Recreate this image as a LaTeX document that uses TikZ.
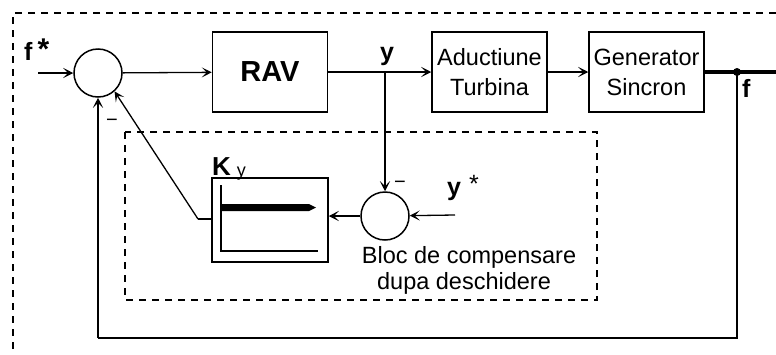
\documentclass[tikz,border=0pt]{standalone}
\usepackage{fontspec}
\setmainfont{Liberation Sans}
\usetikzlibrary{arrows.meta}
\begin{document}
\begin{tikzpicture}[x=1pt,y=-1pt,
  arr/.style={line width=1.3pt,-{Stealth[length=10pt,width=10pt,inset=5pt]}},
  sig/.style={line width=1.3pt},
  blk/.style={draw,line width=1.5pt,minimum width=115pt,minimum height=80pt,inner sep=0pt,align=center,font=\fontsize{23.5}{30}\selectfont},
  sumc/.style={draw,circle,line width=1.5pt,minimum size=48pt,inner sep=0pt},
  dsh/.style={line width=1.5pt,dash pattern=on 7pt off 6pt},
  lbl/.style={inner sep=0pt,anchor=base west,font=\fontsize{25}{28}\selectfont\bfseries},
  txt/.style={inner sep=0pt,font=\fontsize{23.5}{27}\selectfont},
  mns/.style={inner sep=0pt,font=\fontsize{20}{24}\selectfont}]
\useasboundingbox (0,0) rectangle (776,354);
% outer dashed frame (top and left)
\coordinate (ot) at (776,13);
\coordinate (oc) at (13,13);
\coordinate (ob) at (13,354);
\draw[dsh] (ot) -- (oc) -- (ob);
% inner dashed frame
\coordinate (i1) at (125,132);
\coordinate (i2) at (597,300);
\draw[dsh] (i1) rectangle (i2);
% blocks
\node[sumc] (c1) at (98,73) {};
\node[blk,font=\fontsize{29}{30}\selectfont\bfseries] (rav) at (270,72) {RAV};
\node[blk] (adu) at (489.5,72) {Aductiune\\Turbina};
\node[blk] (gen) at (646.5,72) {Generator\\Sincron};
\node[sumc] (c2) at (385,216) {};
\node[draw,line width=1.5pt,minimum width=116pt,minimum height=84pt,inner sep=0pt] (ky) at (270,220) {};
% Ky inner chart
\draw[line width=1.3pt] (221,185) -- (221,251) -- (318,251);
\fill (221,204) -- (309,204) -- (316,207.5) -- (309,211) -- (221,211) -- cycle;
% labels
\node[lbl] (fs) at (24,60) {f\hspace{5pt}\raisebox{1pt}{\fontsize{30}{30}\selectfont *}};
\node[lbl] (yl) at (380,60) {y};
\node[lbl] (ys) at (447,195) {y\hspace{8pt}\raisebox{3pt}{\mdseries *}};
\node[lbl] (fl) at (742,97) {f};
\node[lbl,font=\fontsize{26}{28}\selectfont\bfseries] (kyl) at (212,175) {K\hspace{6pt}\raisebox{-1pt}{\fontsize{18}{20}\selectfont\mdseries y}};
\node[txt] (bl1) at (469,257) {Bloc de compensare};
\node[txt] (bl2) at (464,283) {dupa deschidere};
\node[mns] (m1) at (112,123) {−};
\node[mns] (m2) at (400,185) {−};
% signal lines
\coordinate (fin) at (38,73);
\draw[arr] (fin) -- (c1);
\draw[arr] (c1) -- (rav);
\coordinate (br) at (385,72);
\draw[arr] (rav.east) -- (adu.west);
\draw[arr] (br) -- (c2);
\draw[arr] (adu.east) -- (gen.west);
\coordinate (fend) at (776,72);
\draw[line width=3.5pt] (gen.east) -- (fend);
\coordinate (dot) at (737,72);
\fill (dot) circle (4pt);
\coordinate (fb2) at (98,338);
\draw[sig] (dot) |- (fb2);
\draw[arr] (fb2) -- (c1);
\coordinate (ysin) at (455,215);
\draw[arr] (ysin) -- (c2);
\draw[arr] (c2) -- (ky.east |- c2.west);
\coordinate (kb) at (198,219);
\draw[sig] (ky.west |- kb) -- (kb);
\draw[arr] (kb) -- (c1.-48);
\end{tikzpicture}
\end{document}
